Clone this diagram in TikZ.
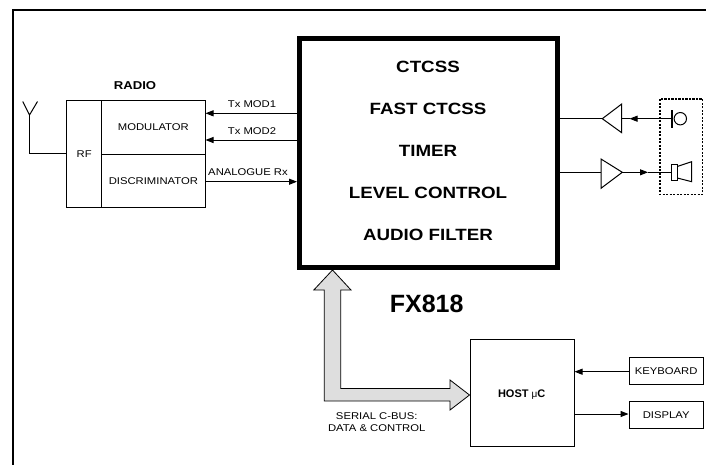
\documentclass[tikz,border=0pt]{standalone}
\usepackage{fontspec}
\usepackage{graphicx}
\setmainfont{Liberation Sans}
\newfontfamily\wfont[FakeStretch=1.15]{Liberation Sans}
\usetikzlibrary{arrows.meta}
\begin{document}
\begin{tikzpicture}[x=1pt,y=-1pt,
  box/.style={draw,line width=1,inner sep=0,text depth=0pt},
  big/.style={inner sep=0,font=\wfont\bfseries\fontsize{16.3}{18}\selectfont},
  lbl/.style={inner sep=0,font=\wfont\fontsize{9.8}{11}\selectfont},
  conn/.style={line width=1},
  arr/.style={line width=1,-{Triangle[length=8pt,width=6pt]}},
  bus/.style={draw,line width=0.8,fill=black!13,line join=miter}]
\useasboundingbox (0,0) rectangle (706,464);
\clip (0,0) rectangle (706,464);
% outer frame
\draw[line width=2] (13,10) rectangle (720,480);

% main FX818 block
\node[draw,line width=5,minimum width=258,minimum height=229,inner sep=0] (fx) at (428.5,153) {};
\node[big] (t1) at (428,67) {CTCSS};
\node[big] (t2) at (428,108.5) {FAST CTCSS};
\node[big] (t3) at (428,151) {TIMER};
\node[big] (t4) at (428,193) {LEVEL CONTROL};
\node[big] (t5) at (428,234.5) {AUDIO FILTER};
\node[inner sep=0,font=\bfseries\fontsize{25}{28}\selectfont] (fxname) at (426.7,304) {FX818};

% radio
\node[inner sep=0,font=\wfont\bfseries\fontsize{11.4}{13}\selectfont] (radio) at (135,86) {RADIO};
\node[box,minimum width=35,minimum height=107,font=\wfont\fontsize{9.8}{11}\selectfont] (rf) at (84.2,154.2) {RF};
\node[box,minimum width=103.3,minimum height=53.6,font=\wfont\fontsize{9.8}{11}\selectfont] (mod) at (153.35,127.5) {MODULATOR};
\node[box,minimum width=103.3,minimum height=53.4,font=\wfont\fontsize{9.8}{11}\selectfont] (disc) at (153.35,181) {DISCRIMINATOR};

% antenna
\coordinate (antv) at (29.5,115);
\coordinate (antb) at (29.5,153.3);
\draw[conn] (22.7,101.5) -- (antv) -- (37.5,101.5);
\draw[conn] (antv) -- (antb) -- (antb -| rf.west);

% radio connections
\draw[arr] (fx.west |- 0,113.3) -- (mod.east |- 0,113.3);
\draw[arr] (fx.west |- 0,140) -- (mod.east |- 0,140);
\draw[arr] (disc.east |- 0,181.7) -- (fx.west |- 0,181.7);
\node[lbl] (l1) at (252,104.3) {Tx MOD1};
\node[lbl] (l2) at (252,131) {Tx MOD2};
\node[lbl] (l3) at (248,172.3) {ANALOGUE Rx};

% microphone path
\coordinate (t1tip) at (602.3,118.7);
\coordinate (t1base) at (621.7,118.7);
\draw[conn,line join=miter] (t1tip) -- (621.7,104) -- (621.7,132.7) -- cycle;
\coordinate (micbar) at (671.7,118.7);
\coordinate (micarr) at (629.5,118.7);
\draw[conn] (fx.east |- t1tip) -- (t1tip);
\draw[arr] (micbar) -- (micarr);
\draw[conn] (micarr) -- (t1base);
\draw[line width=2.2] (671.7,110) -- (671.7,128.3);
\draw[conn] (680.3,118.7) circle (6.2);

% speaker path
\coordinate (t2base) at (601,172.3);
\coordinate (t2tip) at (622.3,172.3);
\draw[conn,line join=miter] (t2tip) -- (601,159) -- (601,188.3) -- cycle;
\coordinate (spk) at (671.7,172.3);
\coordinate (spkarr) at (648,172.3);
\draw[conn] (fx.east |- t2base) -- (t2base);
\draw[arr] (t2tip) -- (spkarr);
\draw[conn] (spkarr) -- (spk);
\draw[conn] (671.7,164.3) rectangle (677.3,180);
\draw[conn,line join=miter] (677.3,166.5) -- (691.7,161.7) -- (691.7,181.7) -- (677.3,178);

% dotted enclosure
\draw[line width=1.5,dash pattern=on 2.2pt off 1.3pt] (660,99) rectangle (702.7,194.3);

% host and peripherals
\node[box,minimum width=104,minimum height=107] (host) at (522,392.5) {};
\node[inner sep=0,text depth=0pt,font=\bfseries\fontsize{11}{12}\selectfont] (hostt) at (521.7,394) {HOST {\mdseries\fontsize{10}{12}\selectfont μ}C};
\node[box,minimum width=74.3,minimum height=26.3,font=\wfont\fontsize{9.8}{11}\selectfont] (kb) at (666.2,370.9) {KEYBOARD};
\node[box,minimum width=74.3,minimum height=26.6,font=\wfont\fontsize{9.8}{11}\selectfont] (disp) at (666.2,415) {DISPLAY};
\draw[arr] (kb.west |- 0,371.7) -- (host.east |- 0,371.7);
\draw[arr] (host.east |- 0,414) -- (disp.west |- 0,414);

% serial bus arrow
\coordinate (bustip) at (332.5,270);
\coordinate (bushead) at (host.west |- 0,395);
\path[bus] (bustip) -- (351,290) -- (340.7,290) -- (340.7,388.5) -- (450,388.5)
  -- (450,380) -- (bushead) -- (450,410) -- (450,401) -- (324.3,401)
  -- (324.3,290) -- (313.8,290) -- cycle;
\node[lbl] (b1) at (376.7,415.7) {SERIAL C-BUS:};
\node[lbl] (b2) at (376.7,428.3) {DATA \& CONTROL};
\end{tikzpicture}
\end{document}
